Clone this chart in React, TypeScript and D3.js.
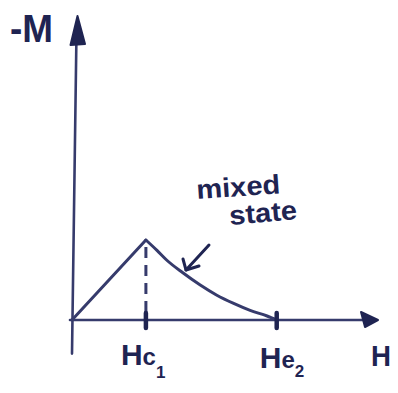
import React from "react";
import * as d3 from "d3";

// Meissner (linear) branch and mixed-state branch of -M vs H
const meissnerH = [0, 1.0];
const meissnerM = [0, 1.0];
const mixedH = [1.0, 1.15, 1.28, 1.5, 1.73, 1.96, 2.18, 2.41, 2.64, 2.77];
const mixedM = [1.0, 0.87, 0.75, 0.59, 0.44, 0.31, 0.21, 0.12, 0.05, 0];

// critical fields marked on the H axis
const criticalFields = [1.0, 2.77];
const criticalLabels = [
  { main: "Hc", sub: "1" },
  { main: "He", sub: "2" },
];

const W = 398;
const H = 393;
const INK = "#1f2452";
const LINE = "#363b6c";

export default function App() {
  const x = d3.scaleLinear().domain([0, 4.1]).range([72, 375]);
  const y = d3.scaleLinear().domain([0, 3.65]).range([320, 28]);

  const line = d3
    .line<[number, number]>()
    .x((d) => x(d[0]))
    .y((d) => y(d[1]));
  const curved = d3
    .line<[number, number]>()
    .x((d) => x(d[0]))
    .y((d) => y(d[1]))
    .curve(d3.curveMonotoneX);

  const meissner = meissnerH.map((h, i) => [h, meissnerM[i]] as [number, number]);
  const mixed = mixedH.map((h, i) => [h, mixedM[i]] as [number, number]);

  const x0 = x(0);
  const y0 = y(0);
  const yTop = y(3.65);
  const yBottom = y(-0.42);
  const xEnd = x(4.1);
  const peak = mixed[0];

  return (
    <svg
      width={W}
      height={H}
      style={{ position: "absolute", left: 0, top: 0, background: "#fff" }}
      fontFamily="'Liberation Sans', Arial, sans-serif"
    >
      {/* vertical axis with arrowhead */}
      <line x1={x0} y1={yBottom} x2={x0 + 4.5} y2={yTop + 4} stroke={LINE} strokeWidth={2.6} strokeLinecap="round" />
      <path
        d={`M${x0 + 5.5},${yTop - 12} L${x0 - 1.5},${yTop + 17} L${x0 + 13},${yTop + 16} Z`}
        fill={INK}
        stroke={INK}
        strokeWidth={2}
        strokeLinejoin="round"
      />

      {/* horizontal axis with arrowhead */}
      <line x1={x0 - 2} y1={y0} x2={xEnd - 6} y2={y0} stroke={LINE} strokeWidth={2.6} strokeLinecap="round" />
      <path
        d={`M${xEnd + 3},${y0} L${xEnd - 14},${y0 - 8} L${xEnd - 10},${y0 + 7} Z`}
        fill={INK}
        stroke={INK}
        strokeWidth={2}
        strokeLinejoin="round"
      />

      {/* Meissner branch */}
      <path d={line(meissner) ?? ""} fill="none" stroke={LINE} strokeWidth={3} strokeLinecap="round" />
      {/* mixed-state branch */}
      <path d={curved(mixed) ?? ""} fill="none" stroke={LINE} strokeWidth={3} strokeLinecap="round" />

      {/* dashed drop line from the peak at Hc1 */}
      <line
        x1={x(peak[0])}
        y1={y(peak[1]) + 7}
        x2={x(peak[0])}
        y2={y0 - 3}
        stroke={LINE}
        strokeWidth={3}
        strokeDasharray="11 7"
      />

      {/* ticks and labels at the critical fields */}
      {criticalFields.map((h, i) => (
        <g key={i}>
          <line x1={x(h)} y1={y0 - 7} x2={x(h)} y2={y0 + 8} stroke={INK} strokeWidth={4.5} strokeLinecap="round" />
          <text x={x(h) - 25 + i * 8} y={365 + i * 3} fill={INK} fontSize={30} fontWeight={700}>
            <tspan>{criticalLabels[i].main[0]}</tspan>
            <tspan fontSize={24} fontWeight={600}>{criticalLabels[i].main[1]}</tspan>
            <tspan fontSize={17} dy={i === 0 ? 13 : 9} fontWeight={600}>{criticalLabels[i].sub}</tspan>
          </text>
        </g>
      ))}

      {/* axis titles */}
      <text x={10} y={42} fill={INK} fontSize={38} fontWeight={700} textLength={43} lengthAdjust="spacingAndGlyphs">
        -M
      </text>
      <text x={371} y={366} fill={INK} fontSize={30} fontWeight={700} textLength={20} lengthAdjust="spacingAndGlyphs">
        H
      </text>

      {/* annotation */}
      <text
        x={197}
        y={199}
        fill={INK}
        fontSize={27}
        fontWeight={600}
        textLength={84}
        lengthAdjust="spacingAndGlyphs"
        transform="rotate(-4 197 199)"
      >
        mixed
      </text>
      <text
        x={230}
        y={225}
        fill={INK}
        fontSize={27}
        fontWeight={600}
        textLength={68}
        lengthAdjust="spacingAndGlyphs"
        transform="rotate(-5 230 225)"
      >
        state
      </text>
      <g stroke={INK} strokeWidth={3} fill="none" strokeLinecap="round" strokeLinejoin="round">
        <line x1={209} y1={245} x2={186} y2={270} />
        <path d="M183,259 L186,270 L199,266" />
      </g>
    </svg>
  );
}
